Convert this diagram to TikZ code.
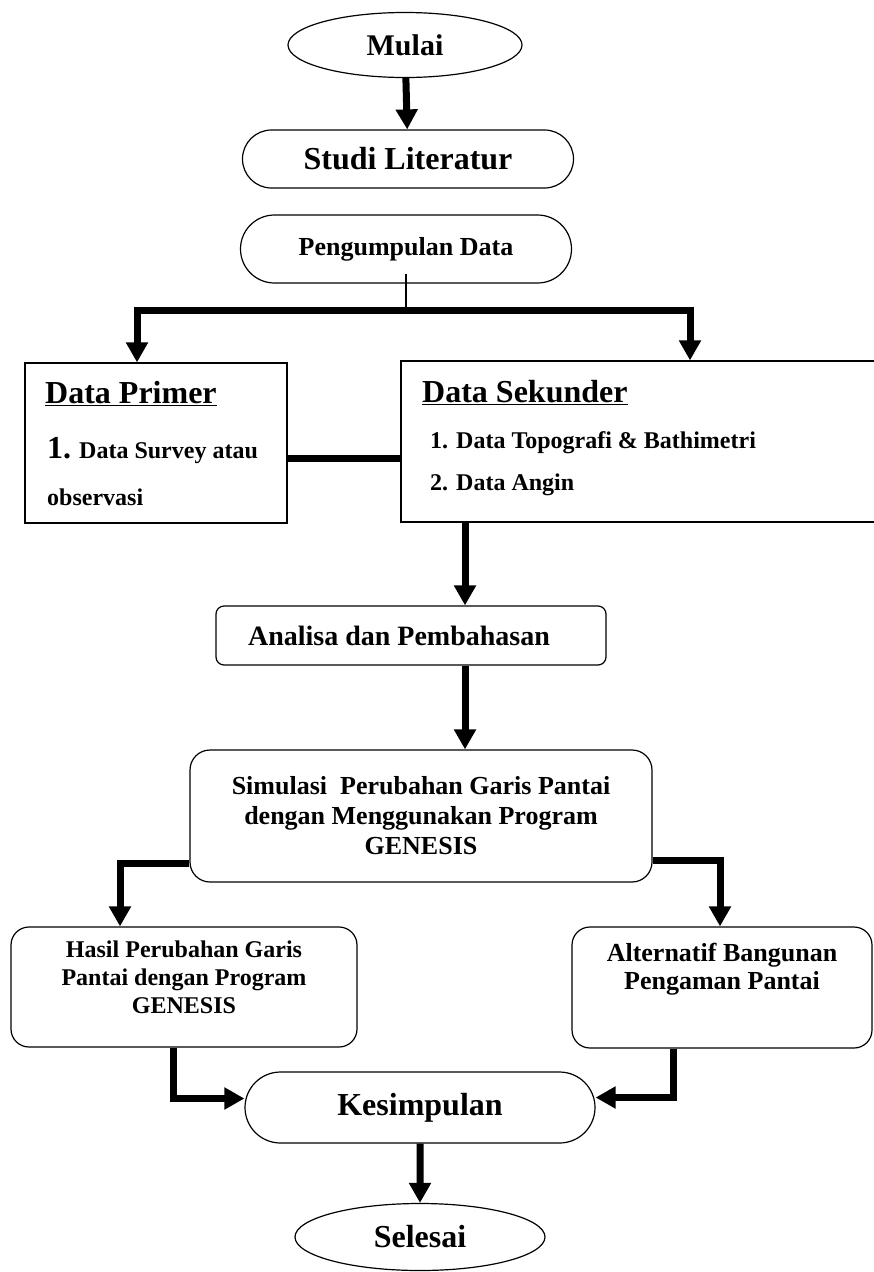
\documentclass[tikz,border=0pt]{standalone}
\usepackage{fontspec}
\setmainfont{Liberation Serif}
\usetikzlibrary{arrows.meta,shapes.geometric,shapes.misc}

\begin{document}
\begin{tikzpicture}[x=1pt,y=-1pt,
  box/.style={draw,line width=1.2pt,inner sep=0pt,align=center},
  terminal/.style={box,ellipse},
  pill/.style={box,rounded rectangle},
  rbox/.style={box,rounded corners=#1},
  txt/.style 2 args={font=\bfseries\fontsize{#1}{#2}\selectfont},
  flow/.style={line width=7pt,-{Triangle[width=21pt,length=20pt]}},
  link/.style={line width=7pt}]
  \useasboundingbox (0,0) rectangle (874,1272);

  % Start and literature
  \node[terminal,txt={30}{34},minimum width=234pt,minimum height=65pt] (mulai) at (405,45) {Mulai};
  \node[pill,txt={32}{36},minimum width=331pt,minimum height=58pt] (studi) at (408,159) {Studi Literatur};
  \node[pill,txt={26}{30},minimum width=331pt,minimum height=68pt] (kumpul) at (406,249) {Pengumpulan Data};
  \draw[flow] (mulai) -- (studi);

  % Data boxes
  \node[box,minimum width=262pt,minimum height=160pt] (primer) at (156,443) {};
  \node[txt={32}{36},anchor=base west,inner sep=0pt] (primerjudul) at (45,403) {\underline{Data Primer}};
  \node[txt={24}{28},anchor=base west,inner sep=0pt] (primersatu) at (47,458) {{\fontsize{32}{32}\selectfont 1.} Data Survey atau};
  \node[txt={24}{28},anchor=base west,inner sep=0pt] (primerdua) at (47,505) {observasi};

  \node[box,minimum width=479pt,minimum height=161pt] (sekunder) at (640.5,441.5) {};
  \node[txt={32}{36},anchor=base west,inner sep=0pt] (sekunderjudul) at (422,402) {\underline{Data Sekunder}};
  \node[txt={24}{28},anchor=base west,inner sep=0pt] (sekundersatu) at (430,448) {1.\hspace{8pt}Data Topografi \& Bathimetri};
  \node[txt={24}{28},anchor=base west,inner sep=0pt] (sekunderdua) at (430,490) {2.\hspace{8pt}Data Angin};

  % Branch to the data boxes
  \coordinate (cabang) at (406,310);
  \draw[line width=1.2pt] ([yshift=10pt]kumpul.south) -- (cabang);
  \draw[flow] (cabang) -| ([xshift=-19pt]primer.north);
  \draw[flow] (cabang) -| ([xshift=49.5pt]sekunder.north);
  \draw[link] ([yshift=-15pt]primer.east) coordinate (p) -- (p -| sekunder.west);

  % Analysis and simulation
  \node[rbox=8pt,txt={28}{32},minimum width=390pt,minimum height=59pt] (analisa) at (411,635.5) {Analisa dan Pembahasan\hspace*{24pt}};
  \node[rbox=20pt,txt={26}{30},minimum width=462pt,minimum height=132pt] (simulasi) at (421,816)
    {Simulasi\ \ Perubahan Garis Pantai\\ dengan Menggunakan Program\\ GENESIS};
  \coordinate (jalur) at (465,0);
  \draw[flow] (sekunder.south -| jalur) -- (analisa.north -| jalur);
  \draw[flow] (analisa.south -| jalur) -- (simulasi.north -| jalur);

  % Results
  \node[rbox=18pt,txt={24}{28},minimum width=346pt,minimum height=120pt] (hasil) at (184,987)
    {Hasil Perubahan Garis\\ Pantai dengan Program\\ GENESIS\\[-8pt]};
  \node[rbox=18pt,txt={26}{28},minimum width=300pt,minimum height=121pt] (alt) at (722,987.5)
    {Alternatif Bangunan\\ Pengaman Pantai\\[14pt]};
  \draw[flow] ([yshift=-47pt]simulasi.west) -| ([xshift=-64pt]hasil.north);
  \draw[flow] ([yshift=-44pt]simulasi.east) -| ([xshift=-2pt]alt.north);

  % Conclusion and end
  \node[pill,txt={32}{36},minimum width=350pt,minimum height=71pt] (kesimpulan) at (420,1107.5) {Kesimpulan};
  \node[terminal,txt={32}{36},minimum width=250pt,minimum height=67pt] (selesai) at (420,1237) {Selesai};
  \draw[flow] ([xshift=-11pt]hasil.south) |- ([yshift=9pt]kesimpulan.west);
  \draw[flow] ([xshift=-49pt]alt.south) |- ([yshift=10pt]kesimpulan.east);
  \draw[flow] (kesimpulan) -- (selesai);
\end{tikzpicture}
\end{document}
